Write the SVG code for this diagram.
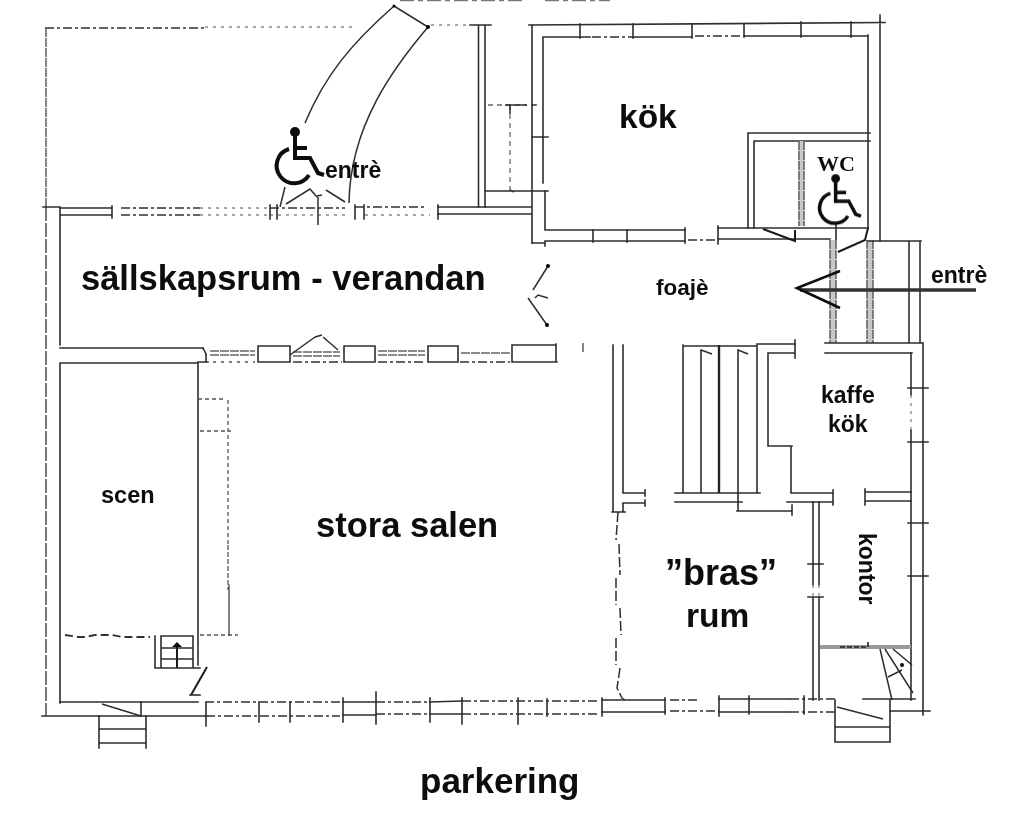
<svg xmlns="http://www.w3.org/2000/svg" width="1024" height="829" viewBox="0 0 1024 829">
<style>
.w{fill:none;stroke:#2e2e2e;stroke-width:1.6;stroke-linecap:square}
.d{fill:none;stroke:#333;stroke-width:1.4;stroke-dasharray:9 3 3 3}
.f{fill:none;stroke:#888;stroke-width:1.3;stroke-dasharray:3 5}
.g{fill:none;stroke:#666;stroke-width:1.6;stroke-dasharray:9 1}
.band{fill:none;stroke:#c8c8c8;stroke-width:6}
.b{fill:none;stroke:#1c1c1c;stroke-width:2}
.t{fill:none;stroke:#2e2e2e;stroke-width:1.5}
.l{fill:#0a0a0a;font-family:"Liberation Sans",Arial,sans-serif;font-weight:bold}
.icon{fill:none;stroke:#0a0a0a;stroke-width:4}
</style>
<defs>
<filter id="scan" x="-2%" y="-2%" width="104%" height="104%"><feGaussianBlur stdDeviation="0.45"/></filter>
<g id="wheelchair">
<circle cx="295" cy="132" r="5" fill="#0a0a0a"/>
<path class="icon" d="M295 134V158H310L318 173L324 175"/>
<path class="icon" d="M295 148H307"/>
<path class="icon" d="M289 149A17.500 17.500 0 1 0 309 175"/>
</g>
</defs>
<rect width="1024" height="829" fill="#fff"/>
<g id="plan" filter="url(#scan)">
<g id="cut-off-top"><path d="M400 .5H525M545 .5H610" fill="none" stroke="#777" stroke-width="1.500" stroke-dasharray="14 4 5 4"/></g>
<g id="outer-west-yard">
<path class="d" d="M45 28H205"/>
<path class="f" d="M205 27H355"/>
<path class="f" d="M431 25H469"/>
<path class="w" d="M470 25H491M478.500 25V207M485 25V207"/>
<path class="g" d="M46 28V207"/>
<path class="g" d="M46 207V716" style="stroke:#555;stroke-dasharray:14 2"/>
<path class="f" style="stroke:#666;stroke-dasharray:5 4" d="M488 105H527M510 105V190"/>
<path class="t" d="M485 191H531M505 105H527M510 105V114M510 190l4 2"/>
</g>
<g id="ramp">
<path class="t" d="M305 123C325 75 352 43 394 6L428 27C395 66 350 125 349 203"/>
<circle cx="394" cy="6" r="1.500"/><circle cx="428" cy="27" r="2"/>
</g>
<g id="veranda">
<path class="w" d="M43 207H60M60 208V345M60 208H112M60 215H112M112 206V218"/>
<path class="d" d="M121 208H200M121 215H200"/>
<path class="f" d="M200 208H270M200 215H270"/>
<path class="d" d="M270 208H345"/>
<path class="f" d="M270 215H345"/>
<path class="w" d="M270 205V219M277 205V219M355 205V219M364 205V219M438 205V219"/>
<path class="d" d="M355 207H425"/>
<path class="f" d="M365 215H430"/>
<path class="w" d="M438 207H531M438 214H531"/>
<path class="t" d="M285 187L280 207M286 204L310 189L317 197M326 190L345 202M318 197V225M317 196L322 195"/>
<path class="w" d="M60 348H203M60 363H198M198 363V665M60 363V703"/>
</g>
<g id="windows">
<path class="w" d="M203 348L206 354M258 346H290V362H258ZM344 346H375V362H344ZM428 346H458V362H428ZM512 345H555M512 345V362H557M556 344V362M206 354V362M198 362H208"/>
<path class="g" d="M210 351H255M210 355H255M293 352H340M293 356H340M378 351H425M378 355H425M461 353H510"/>
<path class="f" d="M213 362H255" style="stroke:#555"/>
<path class="d" d="M293 362H342M378 362H426M460 362H510"/>
<path class="t" d="M290 355L315 337M323 337L338 350M315 337L322 335"/>
<path class="g" d="M583 343V353"/>
</g>
<g id="foyer-door">
<path class="t" d="M548 266L533 290M528 298L547 325M535 298L538 295L548 298"/>
<circle cx="548" cy="266" r="2"/><circle cx="547" cy="325" r="2"/>
</g>
<g id="kitchen">
<path class="w" d="M529 25L885 22.500M880 15V241M532 25V243"/>
<path class="w" d="M543 37H590M633 37H692M744 36H868M868 35V228M543 37V183M545 191V230M545 230H685M545 241H685M545 241V246M532 243H545"/>
<path class="d" d="M592 37H633M695 36H742"/>
<path class="w" d="M580 24V38M633 24V38M692 24V38M744 24V37M801 22V37M851 22V37M593 230V242M627 230V242M685 228V243M718 226V244M532 105H536M532 137H548M532 191H548"/>
<path class="d" d="M688 240H717"/>
<path class="w" d="M718 228H868M718 239H830"/>
</g>
<g id="wc">
<path class="w" d="M748 228V133H870M754 228V141H870"/>
<path class="band" d="M801.500 141V226"/>
<path class="g" d="M799 141V226M804 141V226"/>
<path class="b" d="M763 229L795 241V230"/>
<path class="b" d="M838 252L865 240L868 228"/>
<path class="w" d="M836 224V240"/>
</g>
<g id="entry-porch">
<path class="band" d="M833 240V343M870 240V343"/>
<path class="g" d="M830 240V343M836 240V343M867 240V343M873 240V343"/>
<path class="w" d="M868 241H921M909 241V343M920 241V343M825 343H922M825 353H912"/>
</g>
<g id="entry-arrow">
<path d="M800 290H976" fill="none" stroke="#333" stroke-width="3.500"/>
<path d="M840 271L797 288L840 308" fill="none" stroke="#111" stroke-width="2.600"/>
</g>
<g id="stage">
<path class="d" d="M65 635L78 637H85L95 635H112L122 637H135L150 637" style="stroke-width:1.800;stroke-dasharray:8 4"/>
<path class="w" d="M155 636V668M161 636H193V668M161 636V668M155 668H200M161 648H193M161 659H193"/>
<path class="b" d="M177 668V644"/><path d="M172 647L177 642L182 647Z" fill="#111"/>
<path class="b" d="M207 667L191 695"/>
<path class="w" d="M190 695H200"/>
<path class="f" style="stroke:#555;stroke-dasharray:4 3" d="M198 399H226M200 431H231M200 635H238M228 400V545"/>
<path class="w" d="M229 585V635" style="stroke-width:1.200"/>
<path class="f" style="stroke:#555;stroke-dasharray:5 2" d="M228 545V590"/>
</g>
<g id="south-wall">
<path class="w" d="M42 716H206M60 702H198"/>
<path class="d" d="M206 716H340M205 702H340"/>
<path class="w" d="M343 702H376M343 715H376M430 702L462 701M430 714L462 714M602 712H665M602 700H665M719 699H790M719 712H790"/>
<path class="d" d="M376 714H430M376 702H430M462 701H600M462 714H600M670 711H719M670 700H700M790 712H835M790 699H835"/>
<path class="w" d="M206 703V726M259 702V722M290 702V722M343 698V722M376 692V724M430 698V722M462 698V724M518 698V724M547 699V716M602 698V716M665 698V714M719 696V716M749 696V714M804 696V714"/>
<path class="w" d="M863 699H915M890 711H930M923 343V715M911 353V395M911 430V700"/>
<path class="f" d="M911 395V430"/>
<path class="w" d="M141 702V716M99 716V748M146 716V748M99 729H146M99 743H146"/>
<path class="t" d="M102 704L141 716"/>
<path class="w" d="M835 700V742M890 700V742M835 727H890M835 742H890"/>
<path class="t" d="M837 707L883 719"/>
</g>
<g id="east-rooms">
<path class="w" d="M613 345V512M623 345V493M623 493H645M623 503H645M623 503V512M612 512H625M645 490V496M645 500V506"/>
<path d="M618 512L616 540M619 544L620 575M616 578L616 605M620 608L621 635M616 638L616 665M620 668L617 688L622 698L625 700" class="t" style="stroke-dasharray:10 3"/>
<path class="w" d="M683 345V493M701 350V493M738 350V510M757 345V493M683 346H757M757 344H795M675 493H760M675 502H742M737 511H792M792 505V515"/>
<path d="M719 345V493" fill="none" stroke="#222" stroke-width="2.400"/>
<path class="t" d="M701 350L712 354M738 350L748 354"/>
<path class="w" d="M795 340V358M768 353H795M768 353V446H792M791 446V493H833M787 502H833M833 490V505"/>
<path class="w" d="M813 502V585M819 502V585M813 597V700M819 597V700M808 564H823M808 597H823"/>
<path class="f" d="M813 585V597M819 585V597"/>
<path class="w" d="M865 492H911M865 501H911M865 489V505M908 388H928M908 442H928M908 523H928M908 576H928"/>
<path d="M820 647H911" fill="none" stroke="#999" stroke-width="4"/>
<path d="M840 647H868M868 647L868 642" fill="none" stroke="#222" stroke-width="1.600" stroke-dasharray="5 2"/>
<path class="t" d="M880 649L892 700M885 649L913 693M893 649L912 665M888 677L902 670"/>
<circle cx="902" cy="665" r="2" fill="#111"/>
</g>
</g>
<g id="symbols" filter="url(#scan)">
<use href="#wheelchair"/>
<use href="#wheelchair" transform="translate(577.500 63) scale(.875)"/>
</g>
<g id="labels" style="filter:url(#scan)">
<text class="l" x="325" y="178" font-size="23">entrè</text>
<text class="l" x="81" y="290" font-size="34.500">sällskapsrum - verandan</text>
<text class="l" x="619" y="128" font-size="33.500">kök</text>
<text x="817" y="171" font-size="22" font-weight="bold" font-family="Liberation Serif,serif" fill="#111">WC</text>
<text class="l" x="656" y="295" font-size="22.500">foajè</text>
<text class="l" x="931" y="283" font-size="23">entrè</text>
<text class="l" x="101" y="503" font-size="23.500">scen</text>
<text class="l" x="316" y="537" font-size="34.500">stora salen</text>
<text class="l" x="821" y="403" font-size="23">kaffe</text>
<text class="l" x="828" y="432" font-size="23">kök</text>
<text class="l" transform="translate(859 533) rotate(90)" font-size="23">kontor</text>
<text class="l" x="665" y="585" font-size="36">”bras”</text>
<text class="l" x="686" y="627" font-size="33.500">rum</text>
<text class="l" x="420" y="793" font-size="35">parkering</text>
</g>
</svg>
